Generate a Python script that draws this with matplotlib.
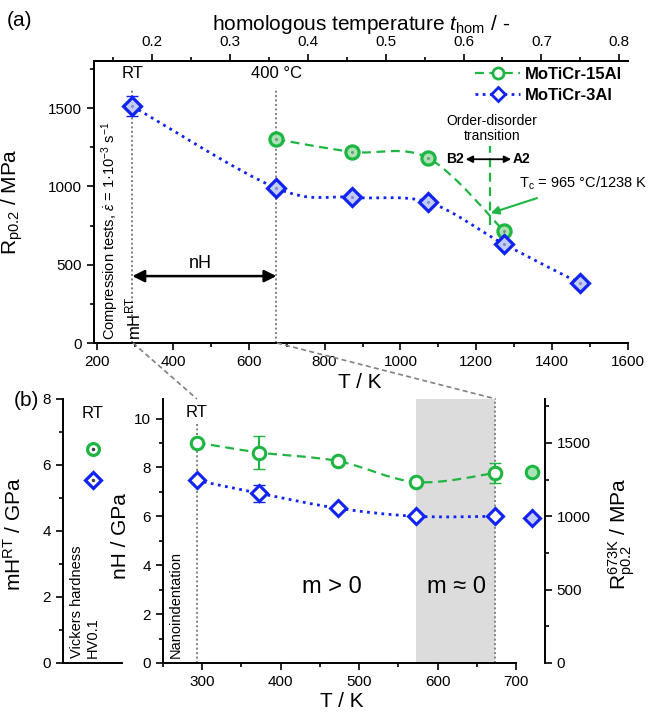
import numpy as np
import matplotlib
matplotlib.use('Agg')
import matplotlib.pyplot as plt
from matplotlib.path import Path
from matplotlib.patches import PathPatch
from matplotlib.lines import Line2D
from matplotlib.ticker import MultipleLocator

plt.rcParams['font.family'] = ['Liberation Sans', 'DejaVu Sans']
plt.rcParams['mathtext.fontset'] = 'custom'
plt.rcParams['mathtext.rm'] = 'Liberation Sans'
plt.rcParams['mathtext.it'] = 'Liberation Sans:italic'
plt.rcParams['mathtext.bf'] = 'Liberation Sans:bold'

# --- data (a): yield strength vs temperature
T_15 = [673, 873, 1073, 1273]
R_15 = [1300, 1220, 1181, 715]
R_15_err = [0, 25, 15, 15]
T_3 = [293, 673, 873, 1073, 1273, 1473]
R_3 = [1512, 988, 930, 899, 631, 382]
R_3_err = [65, 15, 0, 15, 0, 0]

# --- data (b): hardness
T_nh = [293, 373, 473, 573, 673]
nH_15 = [9.02, 8.61, 8.26, 7.40, 7.77]
nH_15_err = [0.1, 0.68, 0.1, 0.1, 0.4]
nH_3 = [7.47, 6.94, 6.33, 6.00, 6.00]
nH_3_err = [0.1, 0.35, 0.1, 0.05, 0.05]
mH_15 = 6.5
mH_3 = 5.54
R673_15 = 1300
R673_3 = 988

GREEN = '#1fb543'
GREEN_L = '#a9e3b5'
BLUE = '#1023f2'
BLUE_L = '#c4ccff'
GRAY = '#808080'

W, H = 649, 714
fig = plt.figure(figsize=(W / 100, H / 100), dpi=100)


def box(l, t, r, b):
    return [l / W, 1 - b / H, (r - l) / W, (b - t) / H]


def smooth(ax, x, y, **kw):
    # Catmull-Rom segments drawn as cubic Bezier path through the points
    p = np.column_stack([x, y]).astype(float)
    n = len(p)
    verts = [p[0]]
    codes = [Path.MOVETO]
    for i in range(n - 1):
        p0 = p[i - 1] if i > 0 else p[i]
        p3 = p[i + 2] if i + 2 < n else p[i + 1]
        c1 = p[i] + (p[i + 1] - p0) / 6
        c2 = p[i + 1] - (p3 - p[i]) / 6
        verts += [c1, c2, p[i + 1]]
        codes += [Path.CURVE4] * 3
    ax.add_patch(PathPatch(Path(verts, codes), fill=False, **kw))


def style(ax):
    ax.tick_params(which='both', direction='out', labelsize=11, width=1.2)
    ax.tick_params(which='major', length=5)
    ax.tick_params(which='minor', length=3)
    for s in ax.spines.values():
        s.set_linewidth(1.4)


green_ls = dict(color=GREEN, lw=1.6, linestyle=(0, (4, 2.5)))
blue_ls = dict(color=BLUE, lw=2.0, linestyle=(0, (1, 1.6)))

# ================= panel (a)
ax = fig.add_axes(box(94, 61, 628, 343))
ax.set_xlim(192, 1600)
ax.set_ylim(0, 1800)
style(ax)
ax.spines['right'].set_visible(False)
ax.xaxis.set_major_locator(MultipleLocator(200))
ax.xaxis.set_minor_locator(MultipleLocator(100))
ax.yaxis.set_major_locator(MultipleLocator(500))
ax.yaxis.set_minor_locator(MultipleLocator(250))
ax.set_xlabel('T / K', fontsize=15)
ax.xaxis.set_label_coords((360 - 94) / 534, -0.105)
ax.set_ylabel(r'R$_{\mathregular{p0.2}}$ / MPa', fontsize=15)
ax.yaxis.set_label_coords(-0.129, 0.5)

for t in (293, 673):
    ax.plot([t, t], [0, 1630], color=GRAY, lw=1.4, linestyle=(0, (1, 1.3)), zorder=1)
ax.text(293, 1721, 'RT', ha='center', va='center', fontsize=12)
ax.text(673, 1721, '400 °C', ha='center', va='center', fontsize=12)

smooth(ax, T_15, R_15, zorder=2, **green_ls)
smooth(ax, T_3, R_3, zorder=2, **blue_ls)
ax.errorbar(T_15, R_15, yerr=R_15_err, fmt='none', ecolor=GREEN, elinewidth=1.5, capsize=4, zorder=3)
ax.errorbar(T_3, R_3, yerr=R_3_err, fmt='none', ecolor=BLUE, elinewidth=1.5, capsize=4, zorder=3)
ax.plot(T_15, R_15, 'o', ms=9.5, mfc=GREEN_L, mec=GREEN, mew=2.3, zorder=4)
ax.plot(T_3, R_3, 'D', ms=9, mfc=BLUE_L, mec=BLUE, mew=2.3, zorder=4)
ax.plot(T_15, R_15, '.', ms=2.5, color='#7a9a80', zorder=5)
ax.plot(T_3, R_3, '.', ms=2.5, color='#8090c0', zorder=5)

# nH range arrow
ax.annotate('', xy=(293, 427), xytext=(673, 427),
            arrowprops=dict(arrowstyle='<|-|>', color='black', lw=1.8, mutation_scale=18, shrinkA=0, shrinkB=0))
ax.text(472, 510, 'nH', ha='center', va='center', fontsize=13)
ax.text(0.03, 0.01, r'Compression tests, $\dot{\epsilon}$ = 1·10$^{-3}$ s$^{-1}$', transform=ax.transAxes,
        rotation=90, ha='center', va='bottom', fontsize=10.5)
ax.text(0.073, 0.01, r'mH$^{\mathregular{RT}}$', transform=ax.transAxes, rotation=90,
        ha='center', va='bottom', fontsize=12)

# order-disorder transition
ax.plot([1236, 1236], [752, 1256], **green_ls, zorder=2)
ax.text(1241, 1370, 'Order-disorder\ntransition', ha='center', va='center', fontsize=10, linespacing=1.1)
ax.annotate('', xy=(1172, 1173), xytext=(1292, 1173),
            arrowprops=dict(arrowstyle='<|-|>', color='black', lw=1.3, mutation_scale=10, shrinkA=0, shrinkB=0))
ax.text(1168, 1173, 'B2', ha='right', va='center', fontsize=10, fontweight='bold')
ax.text(1297, 1173, 'A2', ha='left', va='center', fontsize=10, fontweight='bold')
ax.annotate(r'T$_{\mathregular{c}}$ = 965 °C/1238 K', xy=(1238, 829), xytext=(1312, 1020),
            ha='left', va='center', fontsize=10.5, annotation_clip=False,
            arrowprops=dict(arrowstyle='-|>', color=GREEN, lw=1.5, mutation_scale=12,
                            shrinkA=8, shrinkB=0))

handles = [Line2D([], [], marker='o', ms=8, mfc='white', mec=GREEN, mew=2, **green_ls),
           Line2D([], [], marker='D', ms=7.5, mfc='white', mec=BLUE, mew=2, **blue_ls)]
ax.legend(handles, ['MoTiCr-15Al', 'MoTiCr-3Al'], loc='upper right', frameon=False,
          prop=dict(weight='bold', size=12), handlelength=2.7, handletextpad=0.3,
          borderaxespad=0.15, borderpad=0.2, labelspacing=0.35)

# top axis: homologous temperature
ax2 = ax.twiny()
ax2.set_xlim(0.126, 0.811)
style(ax2)
ax2.spines['right'].set_visible(False)
ax2.xaxis.set_major_locator(MultipleLocator(0.1))
ax2.xaxis.set_minor_locator(MultipleLocator(0.05))
ax2.set_xlabel(r'homologous temperature $t_{\mathregular{hom}}$ / -', fontsize=15, labelpad=4)

fig.text(19 / W, 1 - 20 / H, '(a)', fontsize=15, ha='center', va='center')
fig.text(26 / W, 1 - 400 / H, '(b)', fontsize=15, ha='center', va='center')

# ================= panel (b) left: Vickers
axl = fig.add_axes(box(63, 399, 122, 663))
axl.set_xlim(0, 1)
axl.set_ylim(0, 8)
style(axl)
for s in ('top', 'right'):
    axl.spines[s].set_visible(False)
axl.set_xticks([])
axl.yaxis.set_major_locator(MultipleLocator(2))
axl.yaxis.set_minor_locator(MultipleLocator(1))
axl.set_ylabel(r'mH$^{\mathregular{RT}}$ / GPa', fontsize=15)
axl.yaxis.set_label_coords(-0.64, 0.49)
axl.plot([0.5], [mH_15], 'o', ms=8.5, mfc='white', mec=GREEN, mew=2.3)
axl.plot([0.5], [mH_3], 'D', ms=8, mfc='white', mec=BLUE, mew=2.3)
axl.plot([0.5, 0.5], [mH_15, mH_3], '.', ms=3, color='#404040')
axl.text(0.5, 7.55, 'RT', ha='center', va='center', fontsize=12)
axl.text(0.37, 0.02, 'Vickers hardness\nHV0.1', transform=axl.transAxes, rotation=90,
         ha='center', va='bottom', fontsize=10.5, linespacing=1.15, multialignment='left')

# ================= panel (b) middle: nanoindentation
axb = fig.add_axes(box(163, 399, 545, 663))
axb.set_xlim(250, 737)
axb.set_ylim(0, 10.8)
style(axb)
for s in ('top', 'right'):
    axb.spines[s].set_visible(False)
axb.spines['bottom'].set_bounds(250, 700)
axb.xaxis.set_major_locator(MultipleLocator(100))
axb.xaxis.set_minor_locator(MultipleLocator(50))
axb.yaxis.set_major_locator(MultipleLocator(2))
axb.yaxis.set_minor_locator(MultipleLocator(1))
axb.set_xlabel('T / K', fontsize=15, labelpad=0)
axb.xaxis.set_label_coords((342 - 163) / 382, -0.11)
axb.set_ylabel('nH / GPa', fontsize=15)
axb.yaxis.set_label_coords(-0.086, 0.48)

axb.axvspan(573, 673, color='#dcdcdc', lw=0, zorder=0)
axb.plot([293, 293], [0, 9.8], color=GRAY, lw=1.4, linestyle=(0, (1, 1.3)), zorder=1)
axb.plot([673, 673], [0, 10.8], color=GRAY, lw=1.4, linestyle=(0, (1, 1.3)), zorder=1)
axb.text(293, 10.24, 'RT', ha='center', va='center', fontsize=12)
axb.text(266.6, 0.2, 'Nanoindentation', rotation=90, ha='center', va='bottom', fontsize=10.5)
axb.text(465, 3.1, 'm > 0', ha='center', va='center', fontsize=17)
axb.text(624, 3.1, 'm ≈ 0', ha='center', va='center', fontsize=17)

smooth(axb, T_nh, nH_15, zorder=2, **green_ls)
smooth(axb, T_nh, nH_3, zorder=2, **blue_ls)
axb.errorbar(T_nh, nH_15, yerr=nH_15_err, fmt='none', ecolor=GREEN, elinewidth=1.5, capsize=4, zorder=3)
axb.errorbar(T_nh, nH_3, yerr=nH_3_err, fmt='none', ecolor=BLUE, elinewidth=1.5, capsize=4, zorder=3)
axb.plot(T_nh, nH_15, 'o', ms=9, mfc='white', mec=GREEN, mew=2.2, zorder=4)
axb.plot(T_nh, nH_3, 'D', ms=8.5, mfc='white', mec=BLUE, mew=2.2, zorder=4)

# right axis: Rp0.2 at 673 K
axr = axb.twinx()
axr.set_ylim(0, 1800)
style(axr)
for s in ('top', 'left', 'bottom'):
    axr.spines[s].set_visible(False)
axr.yaxis.set_major_locator(MultipleLocator(500))
axr.yaxis.set_minor_locator(MultipleLocator(250))
axr.set_ylabel(r'R$^{\mathregular{673K}}_{\mathregular{p0.2}}$ / MPa', fontsize=15)
axr.yaxis.set_label_coords(1.16, 0.49)
axr.plot([720], [R673_15], 'o', ms=9, mfc=GREEN_L, mec=GREEN, mew=2.2, clip_on=False)
axr.plot([720], [R673_3], 'D', ms=8.5, mfc=BLUE_L, mec=BLUE, mew=2.2, clip_on=False)

# zoom connector lines between panels
for (x0, y0), (x1, y1) in [((133, 343), (197, 399)), ((277, 343), (496, 399))]:
    fig.add_artist(Line2D([x0 / W, x1 / W], [1 - y0 / H, 1 - y1 / H], transform=fig.transFigure,
                          color=GRAY, lw=1.2, linestyle=(0, (3, 2))))

fig.savefig('out.png', dpi=100)
